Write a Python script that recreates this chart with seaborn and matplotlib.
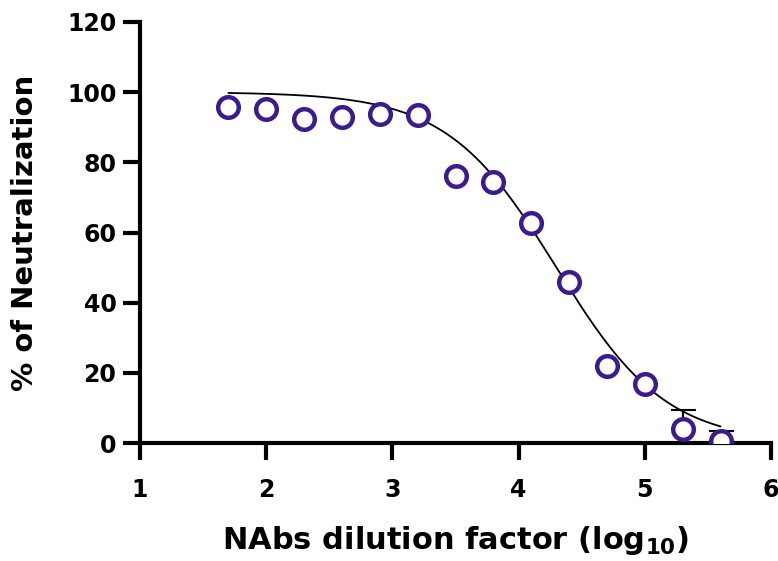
import matplotlib
matplotlib.use("Agg")
import matplotlib.pyplot as plt
import numpy as np
import pandas as pd
import seaborn as sns

# measured points
log_dilution = [1.7, 2.0, 2.3, 2.6, 2.9, 3.2, 3.5, 3.8, 4.1, 4.4, 4.7, 5.0, 5.3, 5.6]
neutralization = [95.7, 95.2, 92.3, 92.9, 93.7, 93.4, 76.1, 74.4, 62.7, 45.9, 21.9, 16.8, 4.0, 0.6]
err_upper = [0, 0, 0, 0, 0, 0, 0, 0, 0, 0, 0, 0, 5.4, 2.8]

# 4PL fit parameters
fit_top = 100.0
fit_bottom = 0.0
fit_log_ic50 = 4.3
fit_hill = 1.0

x_ticks = [1, 2, 3, 4, 5, 6]
y_ticks = [0, 20, 40, 60, 80, 100, 120]

PURPLE = "#3d1a8e"

df = pd.DataFrame({"x": log_dilution, "y": neutralization, "err": err_upper})

sns.set_theme(style="ticks")
plt.rcParams["font.family"] = ["DejaVu Sans"]
plt.rcParams["mathtext.default"] = "bf"
plt.rcParams["text.color"] = "black"
plt.rcParams["axes.labelcolor"] = "black"
plt.rcParams["xtick.color"] = "black"
plt.rcParams["ytick.color"] = "black"

fig = plt.figure(figsize=(7.78, 5.61), dpi=100)
ax = fig.add_axes([0.18, 0.21, 0.811, 0.751])

xfit = np.linspace(min(log_dilution), max(log_dilution), 200)
yfit = fit_bottom + (fit_top - fit_bottom) / (1 + 10 ** ((xfit - fit_log_ic50) * fit_hill))
sns.lineplot(x=xfit, y=yfit, ax=ax, color="black", linewidth=1.3, zorder=2)

ax.errorbar(df["x"], df["y"], yerr=[np.zeros(len(df)), df["err"]], fmt="none",
            ecolor="black", elinewidth=1.5, capsize=9, capthick=1.5, zorder=2)
sns.scatterplot(data=df, x="x", y="y", ax=ax, s=220, facecolor="white",
                edgecolor=PURPLE, linewidth=3.2, zorder=3)

ax.set_xlim(1, 6)
ax.set_ylim(0, 120)
ax.set_xticks(x_ticks)
ax.set_yticks(y_ticks)
ax.set_xticklabels([str(t) for t in x_ticks], fontsize=17, fontweight="bold")
ax.set_yticklabels([str(t) for t in y_ticks], fontsize=17, fontweight="bold")
ax.set_xlabel(r"NAbs dilution factor (log$_{10}$)", fontsize=22, fontweight="bold", labelpad=16)
ax.set_ylabel("% of Neutralization", fontsize=21, fontweight="bold", labelpad=20)

for side in ["top", "right"]:
    ax.spines[side].set_visible(False)
for side in ["left", "bottom"]:
    ax.spines[side].set_linewidth(3)
    ax.spines[side].set_color("black")
ax.spines["left"].set_capstyle("projecting")
ax.tick_params(axis="both", width=3, length=12, color="black")
ax.tick_params(axis="x", pad=13)
ax.tick_params(axis="y", pad=5)

fig.savefig("out.png", dpi=100)
